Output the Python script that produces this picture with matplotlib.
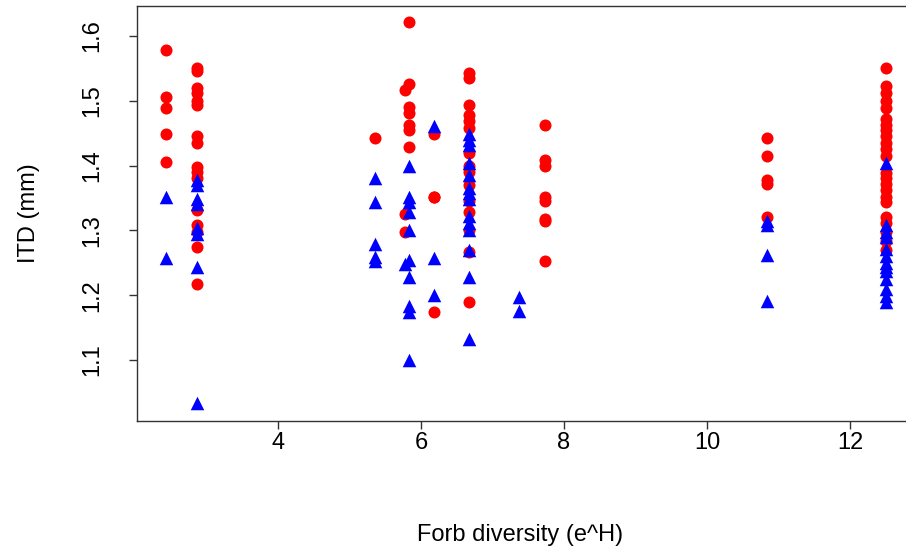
import numpy as np
import matplotlib
matplotlib.use('Agg')
import matplotlib.pyplot as plt

# ==========================================
# 1. DADOS
# ==========================================
# valores de diversidade de forbs (e^H) para cada coluna de pontos
x_red = [2.43, 2.87, 5.36, 5.77, 5.83, 6.18, 6.67, 7.73, 10.84, 12.5]
y_red = [
    [1.578, 1.505, 1.489, 1.449, 1.405],
    [1.551, 1.545, 1.520, 1.512, 1.500, 1.494, 1.445, 1.435, 1.397, 1.390,
     1.380, 1.332, 1.309, 1.298, 1.275, 1.217],
    [1.443],
    [1.517, 1.325, 1.298],
    [1.622, 1.525, 1.490, 1.481, 1.463, 1.455, 1.429],
    [1.448, 1.351, 1.352, 1.174],
    [1.543, 1.535, 1.494, 1.478, 1.468, 1.458, 1.420, 1.400, 1.390, 1.370,
     1.345, 1.328, 1.300, 1.266, 1.189],
    [1.463, 1.409, 1.400, 1.352, 1.345, 1.318, 1.314, 1.252],
    [1.443, 1.414, 1.377, 1.372, 1.320],
    [1.551, 1.522, 1.512, 1.500, 1.489, 1.471, 1.463, 1.455, 1.445, 1.435,
     1.425, 1.415, 1.389, 1.381, 1.371, 1.363, 1.351, 1.343, 1.320, 1.312,
     1.298, 1.283, 1.270],
]

x_blue = [2.43, 2.87, 5.36, 5.77, 5.83, 6.18, 6.67, 7.37, 10.84, 12.5]
y_blue = [
    [1.352, 1.257],
    [1.378, 1.370, 1.348, 1.340, 1.303, 1.294, 1.243, 1.033],
    [1.380, 1.343, 1.279, 1.259, 1.252],
    [1.248],
    [1.400, 1.352, 1.343, 1.328, 1.300, 1.255, 1.228, 1.183, 1.174, 1.100],
    [1.461, 1.258, 1.200],
    [1.448, 1.440, 1.432, 1.404, 1.386, 1.366, 1.358, 1.348, 1.322, 1.312,
     1.300, 1.270, 1.228, 1.132],
    [1.197, 1.176],
    [1.314, 1.308, 1.262, 1.191],
    [1.404, 1.308, 1.297, 1.290, 1.271, 1.260, 1.250, 1.243, 1.238, 1.225,
     1.209, 1.198, 1.189],
]

x_ticks = [4, 6, 8, 10, 12]
y_ticks = [1.1, 1.2, 1.3, 1.4, 1.5, 1.6]

# expandir para pares (x, y)
xr = np.concatenate([[x] * len(ys) for x, ys in zip(x_red, y_red)])
yr = np.concatenate(y_red)
xb = np.concatenate([[x] * len(ys) for x, ys in zip(x_blue, y_blue)])
yb = np.concatenate(y_blue)

# ==========================================
# 2. GRÁFICO
# ==========================================
plt.rcParams['font.family'] = ['Liberation Sans', 'DejaVu Sans']

W, H = 906, 554
fig = plt.figure(figsize=(W / 100, H / 100), dpi=100)
ax = fig.add_axes([137 / W, (H - 421) / H, (914 - 137) / W, (421 - 6) / H])

ax.scatter(xr, yr, s=75, marker='o', color='#ff0000', linewidths=0, zorder=2)
ax.scatter(xb, yb, s=95, marker='^', color='#0000ff', linewidths=0, zorder=3)

ax.set_xlim(2.028, 12.895)
ax.set_ylim(1.006, 1.646)
ax.set_xticks(x_ticks)
ax.set_yticks(y_ticks)
ax.set_yticklabels([f'{v:.1f}' for v in y_ticks])

for s in ax.spines.values():
    s.set_linewidth(1.0)
    s.set_color('#333333')

ax.tick_params(direction='out', length=6, width=1, color='#333333',
               labelsize=17)
ax.tick_params(axis='x', pad=2)
ax.tick_params(axis='y', labelrotation=90, pad=18)
for lab in ax.get_yticklabels():
    lab.set_va('center')

ax.set_xlabel('Forb diversity (e^H)', fontsize=17)
ax.set_ylabel('ITD (mm)', fontsize=17)
ax.xaxis.set_label_coords((520 - 137) / (914 - 137), -(524 - 421) / (421 - 6))
ax.yaxis.set_label_coords(-(137 - 40) / (914 - 137), 0.5)

plt.savefig('out.png', dpi=100)
